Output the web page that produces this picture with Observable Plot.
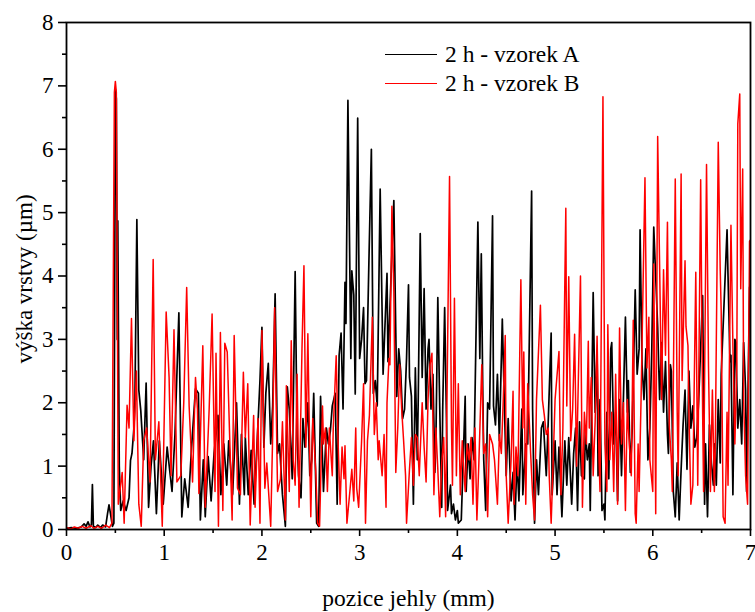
<!DOCTYPE html>
<html>
<head>
<meta charset="utf-8">
<script src="https://cdn.jsdelivr.net/npm/d3@7"></script>
<script src="https://cdn.jsdelivr.net/npm/@observablehq/plot@0.6"></script>
<style>
  html, body { margin: 0; padding: 0; background: #fff; }
  #wrap { position: relative; width: 755px; height: 612px; }
  #legend { position: absolute; left: 385px; top: 40px; font-size: 23.5px; color: #000; font-family: "Liberation Serif", "Times New Roman", serif; }
  .row { display: flex; align-items: center; height: 29px; }
  .sw { width: 52px; margin-right: 8px; }
  svg text { font-family: "Liberation Serif", "Times New Roman", serif !important; }
</style>
</head>
<body>
<div id="wrap">
  <div id="chart"></div>
  <div id="legend"></div>
</div>
<script>
// Series labels
const seriesNames = ["2 h - vzorek A", "2 h - vzorek B"];
const seriesColors = ["#000000", "#ff0000"];

// Axis ticks
const xTicks = [0, 1, 2, 3, 4, 5, 6, 7];
const xMinor = [0.5, 1.5, 2.5, 3.5, 4.5, 5.5, 6.5];
const yTicks = [0, 1, 2, 3, 4, 5, 6, 7, 8];
const yMinor = [0.5, 1.5, 2.5, 3.5, 4.5, 5.5, 6.5, 7.5];

// Series A (black): pozice jehly (mm) / výška vrstvy (µm)
const aX = [0.00,0.05,0.10,0.15,0.18,0.20,0.22,0.24,0.255,0.265,0.275,0.30,0.32,0.35,0.37,0.40,0.42,0.435,0.45,0.47,0.485,0.50,0.51,0.52,0.525,0.54,0.555,0.58,0.61,0.64,0.655,0.67,0.69,0.70,0.72,0.74,0.76,0.79,0.815,0.84,0.865,0.89,0.92,0.95,0.99,1.03,1.08,1.11,1.15,1.18,1.21,1.245,1.28,1.32,1.35,1.37,1.40,1.42,1.45,1.48,1.51,1.55,1.58,1.61,1.64,1.66,1.70,1.74,1.77,1.79,1.82,1.83,1.86,1.89,1.92,1.95,1.98,2.00,2.02,2.04,2.065,2.09,2.11,2.135,2.16,2.18,2.21,2.24,2.26,2.28,2.31,2.34,2.36,2.375,2.40,2.42,2.44,2.47,2.49,2.51,2.53,2.56,2.58,2.60,2.63,2.66,2.68,2.70,2.72,2.75,2.77,2.79,2.81,2.83,2.85,2.86,2.88,2.91,2.92,2.94,2.955,2.98,3.00,3.02,3.04,3.055,3.07,3.095,3.12,3.14,3.16,3.18,3.21,3.24,3.25,3.28,3.29,3.31,3.35,3.37,3.38,3.40,3.42,3.44,3.46,3.48,3.50,3.51,3.53,3.55,3.57,3.59,3.60,3.62,3.64,3.66,3.68,3.70,3.71,3.73,3.75,3.77,3.78,3.80,3.82,3.84,3.85,3.87,3.89,3.90,3.93,3.94,3.96,3.98,4.00,4.01,4.04,4.06,4.08,4.09,4.11,4.13,4.15,4.17,4.21,4.23,4.245,4.26,4.27,4.29,4.31,4.33,4.36,4.37,4.39,4.41,4.43,4.46,4.48,4.50,4.52,4.55,4.57,4.59,4.61,4.63,4.66,4.67,4.70,4.72,4.76,4.77,4.79,4.81,4.83,4.86,4.88,4.91,4.93,4.96,4.97,5.00,5.02,5.04,5.07,5.10,5.12,5.14,5.17,5.19,5.21,5.23,5.25,5.27,5.30,5.31,5.33,5.35,5.36,5.39,5.41,5.43,5.44,5.46,5.48,5.50,5.51,5.53,5.55,5.57,5.58,5.60,5.62,5.64,5.66,5.68,5.72,5.74,5.75,5.77,5.79,5.82,5.84,5.86,5.87,5.89,5.91,5.93,5.95,5.97,5.99,6.01,6.03,6.05,6.07,6.09,6.11,6.13,6.15,6.16,6.18,6.19,6.21,6.23,6.25,6.27,6.29,6.31,6.33,6.35,6.37,6.39,6.41,6.43,6.45,6.47,6.51,6.53,6.54,6.56,6.58,6.60,6.62,6.63,6.65,6.67,6.69,6.70,6.76,6.77,6.79,6.80,6.82,6.84,6.85,6.87,6.89,6.91,6.93,6.95,6.96,6.99,7.00];
const aY = [0.02,0.03,0.02,0.04,0.09,0.05,0.12,0.04,0.08,0.71,0.05,0.03,0.07,0.03,0.07,0.04,0.25,0.39,0.25,0.05,0.10,6.95,6.80,3.00,4.87,1.00,0.30,0.45,0.30,0.50,1.09,1.20,1.60,2.00,4.89,2.20,1.88,1.10,2.31,0.35,1.00,1.40,0.25,1.40,0.40,1.30,0.60,1.50,3.42,0.20,0.80,0.35,1.30,2.22,2.15,0.15,1.10,0.20,1.15,0.45,1.20,1.80,0.55,1.35,0.70,1.40,0.55,2.00,0.40,1.50,0.55,1.45,0.55,1.25,0.40,1.35,2.35,3.19,1.30,2.15,2.62,1.35,1.95,3.72,1.20,1.35,0.55,0.05,2.25,1.90,0.80,4.07,1.45,0.85,0.50,1.75,1.30,2.00,0.85,1.10,2.15,0.10,0.05,2.10,0.60,1.60,1.35,1.55,1.95,2.15,0.40,2.75,3.10,1.90,3.90,3.25,6.77,2.70,4.08,3.70,2.14,6.49,2.70,3.00,3.50,2.30,2.35,4.24,6.00,2.15,2.35,1.95,5.37,2.45,2.85,4.04,2.65,3.50,5.19,3.10,2.10,2.85,2.50,1.75,1.90,2.70,3.86,2.40,2.10,0.40,2.55,1.10,2.10,4.67,2.40,3.80,1.90,2.85,3.00,1.90,2.45,0.90,1.35,3.66,1.90,0.35,1.90,3.50,1.60,0.30,0.70,0.25,0.40,0.15,0.30,0.10,0.15,1.10,2.10,0.60,1.35,0.80,1.45,1.10,4.85,2.70,4.35,2.20,1.10,0.30,2.00,1.90,4.95,1.95,1.65,2.45,1.40,3.32,2.05,0.85,1.75,0.45,0.90,0.15,1.10,0.45,1.90,0.55,1.35,1.35,5.34,1.90,0.10,1.10,0.55,1.60,1.70,0.85,1.70,3.10,0.55,1.40,0.55,1.30,0.20,1.40,0.70,1.45,0.40,1.20,1.60,0.30,1.70,0.85,0.80,1.60,1.10,1.35,0.30,3.74,1.85,2.80,0.85,2.05,0.30,0.40,0.15,1.85,0.80,2.85,2.95,1.35,1.85,0.45,2.05,0.85,3.35,1.85,2.35,0.90,1.60,3.78,2.45,2.85,4.73,2.60,2.05,2.85,1.10,1.60,2.85,4.77,3.98,3.20,2.05,2.95,1.85,2.65,1.50,1.20,2.60,2.50,0.60,0.20,1.05,0.15,0.95,1.65,2.20,0.95,2.50,1.60,1.95,1.30,1.45,2.05,3.69,0.40,1.35,0.20,1.65,1.05,0.70,1.35,0.70,2.05,1.05,2.45,4.73,4.00,2.65,2.75,0.55,3.00,2.95,1.60,2.05,1.35,2.95,2.20,0.60,3.82,3.87];

// Series B (red)
const bX = [0.00,0.05,0.08,0.12,0.16,0.20,0.25,0.28,0.32,0.36,0.40,0.44,0.465,0.49,0.50,0.51,0.53,0.57,0.59,0.62,0.64,0.665,0.69,0.715,0.74,0.765,0.79,0.82,0.855,0.887,0.91,0.945,0.98,1.02,1.05,1.07,1.10,1.13,1.17,1.20,1.23,1.255,1.29,1.32,1.34,1.355,1.395,1.42,1.46,1.49,1.52,1.53,1.555,1.575,1.60,1.62,1.645,1.67,1.695,1.716,1.75,1.78,1.81,1.83,1.855,1.88,1.915,1.93,1.96,1.98,2.00,2.03,2.05,2.09,2.11,2.13,2.16,2.19,2.21,2.24,2.25,2.28,2.30,2.32,2.34,2.36,2.38,2.41,2.43,2.45,2.47,2.49,2.50,2.52,2.55,2.57,2.59,2.62,2.63,2.65,2.67,2.69,2.72,2.73,2.76,2.78,2.80,2.82,2.84,2.85,2.87,2.90,2.92,2.94,2.96,2.97,2.99,3.02,3.04,3.06,3.08,3.10,3.13,3.15,3.17,3.19,3.20,3.23,3.25,3.27,3.28,3.30,3.31,3.33,3.35,3.37,3.39,3.41,3.43,3.45,3.47,3.48,3.51,3.53,3.55,3.57,3.59,3.61,3.64,3.66,3.68,3.70,3.72,3.74,3.76,3.78,3.80,3.82,3.84,3.86,3.88,3.92,3.94,3.95,3.97,3.99,4.01,4.03,4.05,4.06,4.08,4.10,4.12,4.14,4.16,4.18,4.20,4.22,4.25,4.27,4.29,4.31,4.33,4.36,4.38,4.41,4.43,4.45,4.47,4.49,4.50,4.52,4.55,4.57,4.58,4.60,4.62,4.65,4.67,4.68,4.70,4.72,4.75,4.77,4.79,4.81,4.85,4.87,4.89,4.91,4.93,4.94,4.96,4.98,5.00,5.04,5.06,5.08,5.11,5.12,5.14,5.16,5.18,5.20,5.22,5.26,5.28,5.30,5.32,5.34,5.35,5.37,5.39,5.41,5.43,5.45,5.46,5.49,5.51,5.53,5.54,5.56,5.58,5.60,5.62,5.64,5.66,5.68,5.70,5.72,5.74,5.75,5.78,5.80,5.82,5.83,5.85,5.86,5.88,5.92,5.94,5.96,5.97,6.00,6.01,6.03,6.05,6.07,6.09,6.11,6.13,6.15,6.17,6.19,6.20,6.23,6.25,6.26,6.29,6.30,6.33,6.34,6.36,6.37,6.39,6.41,6.44,6.46,6.49,6.51,6.52,6.55,6.57,6.59,6.61,6.63,6.64,6.67,6.69,6.70,6.72,6.74,6.76,6.77,6.80,6.82,6.84,6.86,6.87,6.89,6.90,6.92,6.93,6.95,6.97,6.99,7.00];
const bY = [0.03,0.01,0.04,0.02,0.05,0.02,0.06,0.02,0.05,0.02,0.07,0.03,0.10,6.90,7.07,6.90,0.40,0.90,0.10,1.96,1.60,3.33,1.40,2.50,0.40,0.05,1.40,1.60,0.75,4.26,1.10,1.70,0.05,3.43,2.40,0.85,3.15,0.75,0.85,2.00,3.82,1.95,0.75,2.40,1.90,0.57,2.90,0.35,1.90,3.40,0.60,2.78,0.05,3.11,0.30,2.94,2.80,1.45,0.15,3.06,0.65,0.55,2.48,1.45,2.30,0.07,1.80,0.35,1.75,0.10,3.14,0.65,1.05,0.05,1.50,3.50,0.60,0.80,1.70,0.15,2.27,0.60,2.98,1.10,0.70,2.45,0.35,2.85,4.16,1.30,3.09,1.10,0.20,1.75,0.95,0.10,0.05,1.95,1.35,1.60,0.60,1.60,0.85,1.60,2.74,1.35,0.40,1.30,0.80,1.32,0.10,0.60,0.95,0.45,1.60,0.65,0.35,1.40,2.30,0.10,1.40,1.80,3.35,1.50,2.00,1.10,1.40,0.85,1.50,0.35,2.00,2.70,2.60,5.10,3.75,0.90,1.60,2.60,1.90,1.40,0.85,0.10,0.95,1.45,0.70,1.50,1.45,0.85,2.00,1.30,0.75,2.05,2.60,2.78,0.55,1.60,0.95,0.20,1.05,1.45,0.20,5.57,1.60,0.70,3.65,0.85,2.30,0.55,1.40,1.10,0.60,1.35,1.10,1.45,0.40,1.60,0.15,1.05,2.60,1.20,1.35,0.20,1.50,1.35,1.10,0.40,1.50,1.20,2.05,3.06,0.85,0.10,1.10,2.18,0.40,1.30,0.85,3.94,1.60,2.80,0.40,2.30,1.20,0.55,0.15,2.05,3.54,2.05,1.80,1.50,1.60,0.85,0.10,1.05,2.05,2.81,0.55,1.60,5.07,1.95,3.99,1.40,1.90,3.08,1.00,4.00,0.35,1.85,1.35,2.97,1.60,2.40,0.85,1.70,3.05,1.10,0.60,6.83,1.35,0.60,3.23,1.10,1.85,0.60,2.45,0.40,3.18,1.35,2.00,0.30,2.05,1.60,0.85,3.30,0.25,0.10,1.35,0.60,2.05,5.55,2.55,3.35,1.10,0.60,4.19,0.25,6.20,4.15,2.05,4.10,2.75,4.85,1.60,1.10,0.60,5.53,1.85,0.85,5.61,2.35,4.24,3.20,2.90,1.85,0.40,0.70,4.06,0.70,5.52,1.85,0.60,5.76,2.60,0.60,2.20,0.60,1.35,6.11,4.10,3.45,0.20,0.10,1.85,0.70,4.80,2.90,1.35,2.60,6.40,6.87,3.80,5.69,2.05,0.85,0.40,4.55,4.57];

const rowsA = aX.map((x, i) => ({x, y: aY[i]}));
const rowsB = bX.map((x, i) => ({x, y: bY[i]}));

const font = '"Liberation Serif", "Times New Roman", serif';

const chart = Plot.plot({
  width: 755,
  height: 612,
  marginLeft: 66,
  marginRight: 5,
  marginTop: 22,
  marginBottom: 83,
  style: {fontFamily: font, fontSize: "22px", color: "#000", background: "#fff", overflow: "visible"},
  x: {domain: [0, 7]},
  y: {domain: [0, 8]},
  marks: [
    Plot.line(rowsA, {x: "x", y: "y", stroke: seriesColors[0], strokeWidth: 1.7, clip: true}),
    Plot.line(rowsB, {x: "x", y: "y", stroke: seriesColors[1], strokeWidth: 1.5, clip: true}),
    Plot.frame({stroke: "#000", strokeWidth: 1.8}),
    Plot.axisX({ticks: xTicks, tickSize: 7, tickPadding: 7, tickFormat: d => String(d), label: null, fontSize: 23, strokeWidth: 1.6}),
    Plot.axisX({ticks: xMinor, tickSize: 4, text: null, label: null, strokeWidth: 1.6}),
    Plot.axisY({ticks: yTicks, tickSize: 8, tickPadding: 5, tickFormat: d => String(d), label: null, fontSize: 23, strokeWidth: 1.6}),
    Plot.axisY({ticks: yMinor, tickSize: 4, text: null, label: null, strokeWidth: 1.6}),
    Plot.text(["pozice jehly (mm)"], {frameAnchor: "bottom", textAnchor: "middle", lineAnchor: "middle", dy: 69, fontSize: 23.5, fill: "#000"}),
    Plot.text(["výška vrstvy (µm)"], {frameAnchor: "left", textAnchor: "middle", lineAnchor: "middle", dx: -42, dy: 3, rotate: -90, fontSize: 23, fill: "#000"})
  ]
});
document.getElementById("chart").appendChild(chart);

const legend = document.getElementById("legend");
seriesNames.forEach((name, i) => {
  const row = document.createElement("div");
  row.className = "row";
  const sw = document.createElement("span");
  sw.className = "sw";
  sw.style.borderTop = (i === 0 ? 1.8 : 1.3) + "px solid " + seriesColors[i];
  const t = document.createElement("span");
  t.textContent = name;
  row.appendChild(sw);
  row.appendChild(t);
  legend.appendChild(row);
});
</script>
</body>
</html>
